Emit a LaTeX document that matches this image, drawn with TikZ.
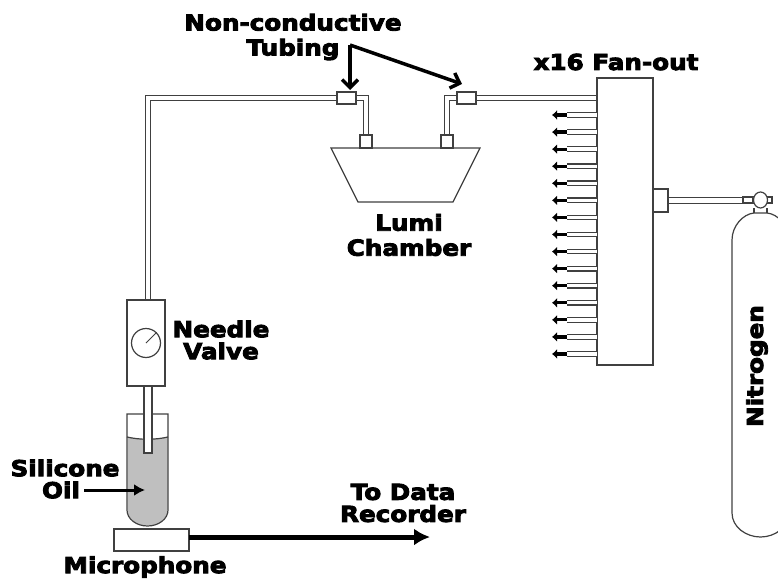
\documentclass[tikz,border=0pt]{standalone}
\usepackage{fontspec}
\newfontfamily\labelfont[FakeStretch=1.12,FakeBold=4]{DejaVu Sans Bold}
\usepackage{tikz}
\usetikzlibrary{arrows.meta, positioning, shapes.geometric}

\begin{document}
\begin{tikzpicture}[
  x=1pt, y=-1pt,
  tube/.style={draw=black!75, line width=1.2pt, double=white, double distance=4.2pt},
  part/.style={rectangle, draw=black!75, line width=1.2pt, fill=white, inner sep=0pt},
  tag/.style={font=\labelfont\fontsize{22}{22}\selectfont, align=center, inner sep=0pt},
  pointer/.style={line width=3.5pt, -{Straight Barb[length=8pt, width=16pt, line width=3.5pt]}},
  outlet/.style={line width=3.2pt, -{Latex[length=5pt, width=10pt]}}
]
  \useasboundingbox (0,0) rectangle (778,580);
  \clip (0,0) rectangle (778,580);

  % Lumi chamber
  \draw[draw=black!75, line width=1.2pt, fill=white] (331,148) -- (480,148) -- (453,202) -- (358,202) -- cycle;
  \node[part, minimum width=12pt, minimum height=13pt] (FL) at (366,141.5) {};
  \node[part, minimum width=12pt, minimum height=13pt] (FR) at (447,141.5) {};
  \node[part, minimum width=19pt, minimum height=12pt] (CL) at (346.5,98) {};
  \node[part, minimum width=19pt, minimum height=12pt] (CR) at (466.5,98) {};

  % Fan-out
  \node[part, minimum width=56pt, minimum height=287pt] (Fan) at (625,221.5) {};
  \node[part, minimum width=15pt, minimum height=23pt] (Stub) at (660.5,200.5) {};

  % Needle valve and test tube
  \fill[black!25] (127.5,437) .. controls (140,440) and (155,440) .. (167.5,437) -- (167.5,510)
    arc[start angle=0, end angle=180, x radius=20, y radius=15.5] -- cycle;
  \draw[draw=black!75, line width=1.2pt] (127,437) .. controls (140,440) and (155,440) .. (168,437);
  \draw[draw=black!75, line width=1.2pt] (127,414) -- (168,414) -- (168,510)
    arc[start angle=0, end angle=180, x radius=20.5, y radius=16] -- cycle;
  \node[part, minimum width=8pt, minimum height=67pt] (Dip) at (148,419.5) {};
  \node[part, minimum width=38pt, minimum height=86pt] (Valve) at (146,343) {};
  \node[part, circle, minimum size=29pt] (Gauge) at (146,343) {};
  \draw[line width=0.8pt, draw=black!75] (Gauge.center) -- (Gauge.45);

  % Tubing
  \coordinate (Elbow) at (148,98);
  \draw[tube] (CL.west) -- (Elbow) -- (Elbow |- Valve.north);
  \draw[tube] (CL.east) -| (FL.north);
  \draw[tube] (CR.west) -| (FR.north);
  \draw[tube] (CR.east) -- (Fan.west |- CR.east);
  \draw[tube] (Stub.east) -- (743,200.5);

  % Outlets
  \foreach \i in {0,...,14} {
    \coordinate (Out\i) at (597,115+17.07*\i);
    \coordinate (Tip\i) at (552,115+17.07*\i);
    \draw[draw=black!75, line width=1.2pt, double=white, double distance=3.4pt] (Out\i) -- (567,115+17.07*\i);
    \draw[outlet] (567,115+17.07*\i) -- (Tip\i);
  }

  % Nitrogen cylinder
  \node[part, minimum width=10pt, minimum height=6pt] (Reg) at (748,200) {};
  \node[part, minimum width=5pt, minimum height=6pt] (Side) at (769.5,200) {};
  \draw[draw=black!75, line width=1.2pt] (754,208) -- (754,213) (767,208) -- (767,213);
  \node[part, ellipse, minimum width=14pt, minimum height=16pt] (Head) at (760.5,200) {};
  \draw[draw=black!75, line width=1.2pt] (732,240) .. controls (732,226) and (743,214) .. (754,213)
    -- (767,213) .. controls (778,214) and (789,226) .. (789,240) -- (789,513)
    .. controls (789,527) and (775,537) .. (760.5,537) .. controls (746,537) and (732,527) .. (732,513) -- cycle;

  % Microphone
  \node[part, minimum width=75pt, minimum height=22pt] (Mic) at (151.5,540) {};
  \coordinate (MicOut) at (189,537);
  \coordinate (DataEnd) at (430,537);

  % Labels
  \node[tag] (Tubing) at (293,37) {Non-conductive\\[3pt]Tubing};
  \node[tag] (Fanout) at (616,62) {x16 Fan-out};
  \node[tag] (Lumi) at (409,235) {Lumi\\[3pt]Chamber};
  \node[tag] (Needle) at (221,340) {Needle\\Valve};
  \node[tag] (Oil) at (65,479) {Silicone\\Oil\kern8pt\relax};
  \node[tag] (Data) at (403,503) {To Data\\Recorder};
  \node[tag] (Micro) at (145,567) {Microphone};
  \node[tag, rotate=90] (Nitrogen) at (757,366) {Nitrogen};

  % Pointers
  \coordinate (Corner) at (350,45);
  \coordinate (TipL) at (350,90);
  \coordinate (TipR) at (462,84);
  \coordinate (OilOut) at (84,490);
  \coordinate (OilIn) at (145,490);
  \draw[pointer] (Corner) -- (TipL);
  \draw[pointer] (Corner) -- (TipR);
  \draw[line width=3pt, -{Latex[length=11pt, width=12pt]}] (OilOut) -- (OilIn);
  \draw[line width=5pt, -{Latex[length=16pt, width=17pt]}] (MicOut) -- (DataEnd);
\end{tikzpicture}
\end{document}
